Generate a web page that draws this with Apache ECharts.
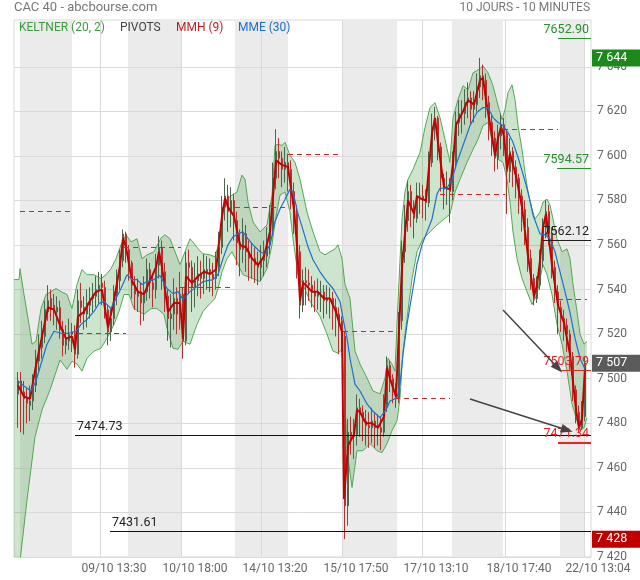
<!DOCTYPE html>
<html><head><meta charset="utf-8">
<script src="https://cdn.jsdelivr.net/npm/echarts@6/dist/echarts.min.js"></script>
<style>html,body{margin:0;padding:0;background:#fff}#c{width:640px;height:580px}</style>
</head><body><div id="c"></div>
<script>
// ---- axes ----
const tickIdx = [86,167,247,328,408,491,570];
const tickLabels = ['09/10 13:30','10/10 18:00','14/10 13:20','15/10 17:50','17/10 13:10','18/10 17:40','22/10 13:04'];
const yTicks = [7420,7440,7460,7480,7500,7520,7540,7560,7580,7600,7620,7640];
const yMin = 7420, yMax = 7661, xMax = 577;
const dayBands = [[6,58],[114,167],[221,274],[328,383],[438,489],[546,571]];
// ---- candles (one every 3 bars of 10 min, first at bar 4) ----
const firstBar = 4, barStep = 3;
const opens = [7493,7499,7494,7491,7488,7490,7497,7508,7514,7519,7530,7536,7533,7530,7532,7522,7515,7517,7521,7520,7511,7535,7532,7529,7533,7536,7537,7540,7543,7541,7531,7521,7527,7538,7544,7553,7565,7558,7552,7542,7537,7539,7534,7539,7549,7543,7540,7551,7559,7548,7537,7527,7529,7536,7529,7538,7517,7552,7550,7541,7544,7547,7545,7548,7549,7547,7545,7550,7559,7577,7582,7575,7580,7571,7561,7558,7565,7557,7554,7554,7551,7550,7553,7555,7560,7567,7590,7602,7599,7594,7597,7594,7584,7574,7557,7533,7544,7543,7542,7539,7537,7539,7539,7535,7536,7536,7532,7529,7526,7519,7443,7476,7474,7475,7487,7485,7481,7479,7478,7481,7478,7478,7476,7488,7506,7500,7495,7491,7526,7557,7571,7584,7577,7572,7582,7582,7581,7579,7597,7613,7617,7604,7590,7585,7586,7584,7597,7615,7619,7619,7624,7626,7621,7623,7631,7636,7634,7624,7615,7608,7599,7609,7614,7610,7593,7602,7595,7590,7582,7576,7568,7554,7545,7536,7542,7553,7568,7575,7565,7550,7539,7532,7527,7524,7520,7510,7495,7485,7478,7483];
const closes = [7499,7494,7491,7489,7490,7497,7509,7515,7520,7531,7535,7532,7531,7532,7522,7515,7518,7520,7520,7511,7535,7532,7529,7534,7536,7538,7540,7542,7541,7531,7521,7527,7539,7544,7553,7565,7558,7552,7542,7538,7539,7534,7539,7549,7543,7540,7552,7559,7548,7537,7527,7529,7536,7529,7538,7517,7552,7550,7541,7544,7547,7545,7549,7549,7547,7545,7550,7559,7577,7582,7575,7580,7571,7561,7558,7565,7557,7554,7554,7551,7550,7553,7555,7560,7567,7590,7602,7599,7594,7597,7594,7584,7574,7557,7533,7544,7543,7542,7539,7537,7539,7539,7535,7536,7536,7532,7529,7526,7519,7443,7476,7474,7475,7487,7485,7481,7479,7478,7481,7478,7478,7476,7488,7506,7500,7495,7491,7526,7557,7571,7584,7577,7572,7582,7582,7581,7579,7597,7613,7617,7604,7590,7585,7586,7584,7597,7615,7619,7619,7624,7626,7621,7623,7631,7636,7634,7624,7615,7608,7599,7609,7614,7610,7593,7602,7595,7590,7582,7576,7568,7554,7545,7536,7542,7553,7568,7575,7565,7550,7539,7532,7527,7524,7520,7510,7495,7485,7478,7483,7507];
const lows = [7478,7476,7475,7480,7481,7486,7494,7503,7509,7516,7526,7526,7524,7522,7518,7510,7511,7513,7512,7505,7509,7525,7522,7523,7527,7530,7532,7534,7533,7527,7515,7517,7524,7533,7540,7550,7552,7544,7536,7531,7530,7524,7526,7535,7536,7532,7536,7545,7540,7530,7517,7514,7522,7520,7522,7509,7515,7538,7530,7532,7537,7536,7538,7540,7539,7537,7540,7546,7556,7571,7566,7568,7562,7551,7546,7552,7548,7544,7545,7543,7542,7544,7546,7550,7556,7564,7585,7590,7586,7588,7584,7576,7565,7545,7527,7530,7533,7535,7532,7530,7531,7530,7527,7529,7527,7522,7519,7511,7512,7428,7434,7466,7464,7470,7474,7472,7470,7469,7471,7469,7470,7468,7474,7485,7494,7489,7487,7489,7522,7552,7566,7568,7563,7570,7574,7572,7571,7577,7595,7607,7598,7584,7576,7578,7570,7580,7595,7609,7610,7614,7617,7614,7615,7620,7626,7625,7617,7607,7600,7593,7594,7603,7600,7574,7588,7586,7581,7574,7566,7560,7548,7540,7533,7534,7540,7550,7563,7560,7545,7534,7520,7521,7517,7512,7504,7490,7480,7476,7477,7481];
const highs = [7503,7503,7499,7496,7497,7502,7513,7520,7526,7535,7542,7540,7538,7537,7535,7526,7524,7527,7525,7524,7540,7543,7537,7540,7541,7543,7546,7548,7547,7544,7533,7532,7542,7549,7558,7567,7566,7560,7553,7546,7545,7543,7546,7554,7552,7547,7556,7564,7562,7552,7540,7538,7545,7541,7548,7541,7557,7558,7553,7552,7555,7553,7556,7555,7554,7552,7557,7566,7582,7590,7587,7586,7583,7575,7567,7572,7569,7562,7561,7559,7557,7560,7562,7568,7578,7597,7612,7608,7602,7604,7601,7598,7588,7578,7560,7549,7550,7549,7546,7544,7545,7544,7542,7542,7541,7539,7536,7532,7528,7521,7482,7483,7482,7493,7491,7488,7486,7485,7487,7485,7484,7483,7493,7510,7508,7502,7498,7530,7562,7578,7589,7587,7580,7588,7588,7587,7585,7602,7619,7622,7618,7606,7592,7593,7590,7602,7620,7625,7625,7630,7633,7629,7629,7637,7644,7641,7637,7627,7618,7611,7614,7619,7617,7612,7608,7604,7598,7592,7585,7580,7572,7558,7547,7546,7558,7572,7580,7578,7568,7553,7542,7535,7531,7527,7522,7512,7497,7488,7490,7510];
// ---- indicators, read as [bar, value] ----
const mmh = [[4,7497],[10,7492],[16,7491],[22,7506],[28,7519],[34,7532],[40,7531],[46,7524],[52,7518],[58,7519],[61,7513],[64,7528],[70,7530],[76,7535],[82,7539],[88,7540],[94,7523],[100,7535],[106,7551],[109,7563],[112,7559],[118,7544],[124,7539],[130,7538],[136,7544],[142,7550],[145,7557],[148,7550],[154,7530],[160,7534],[166,7534],[169,7518],[172,7546],[178,7543],[184,7546],[190,7548],[196,7547],[202,7549],[208,7573],[211,7581],[214,7577],[220,7573],[226,7560],[232,7559],[238,7554],[244,7551],[250,7555],[256,7566],[262,7598],[268,7596],[274,7595],[280,7576],[283,7560],[286,7535],[289,7543],[292,7542],[298,7539],[304,7539],[310,7536],[316,7536],[322,7530],[328,7521],[330,7446],[334,7470],[340,7475],[343,7486],[346,7485],[352,7480],[358,7480],[364,7478],[370,7483],[373,7505],[376,7500],[382,7492],[385,7522],[388,7550],[394,7580],[397,7577],[400,7574],[403,7582],[406,7581],[412,7580],[418,7610],[421,7617],[424,7606],[430,7586],[436,7585],[439,7597],[442,7614],[448,7619],[454,7625],[460,7623],[466,7634],[469,7635],[472,7625],[478,7609],[481,7600],[484,7608],[487,7613],[490,7609],[493,7594],[496,7601],[502,7591],[508,7577],[514,7555],[520,7537],[523,7542],[526,7553],[529,7568],[532,7574],[538,7551],[544,7533],[550,7525],[556,7511],[562,7486],[565,7478],[568,7482],[571,7505]];
const mme = [[4,7499],[10,7496.7],[17,7494.5],[22,7499],[27,7506.6],[33,7515.5],[40,7521.3],[47,7520.4],[55,7520.4],[62,7521.3],[67,7524.4],[73,7526.6],[80,7530.2],[85,7533.8],[90,7534.7],[97,7531.5],[102,7536],[107,7540.5],[113,7546.7],[118,7544.5],[123,7544.5],[128,7542.3],[133,7543.6],[140,7544.5],[146,7546.3],[153,7540.5],[159,7538.2],[164,7539.1],[169,7535.6],[176,7539.1],[183,7541.4],[189,7543.6],[199,7544.5],[204,7546.7],[209,7553.9],[214,7560.1],[219,7563.7],[224,7565],[229,7565.9],[234,7562.8],[239,7560.1],[246,7557],[251,7556.1],[256,7560.1],[261,7570.4],[266,7576.2],[271,7580.6],[276,7585.1],[279,7583.8],[284,7574],[289,7566.8],[294,7559.2],[299,7553.4],[306,7548],[313,7543.6],[319,7540.5],[326,7534.7],[329,7527.1],[333,7518.2],[336,7509.2],[341,7497.6],[346,7494.5],[353,7488.7],[359,7485.4],[366,7482.5],[369,7484.3],[373,7486.9],[376,7490],[383,7491.4],[386,7497.6],[389,7511.1],[393,7524.4],[398,7537.8],[403,7551.6],[408,7560.1],[413,7565.9],[418,7571.7],[423,7582.9],[426,7585.5],[433,7585.5],[438,7589.5],[443,7597.1],[449,7604.7],[456,7613.6],[463,7619.6],[469,7621.7],[474,7621.7],[479,7617.2],[484,7615],[489,7613.6],[494,7610.5],[499,7606.1],[504,7599.4],[509,7591.8],[514,7583.8],[519,7573.5],[526,7565],[531,7564.6],[536,7562.8],[541,7557],[546,7548],[551,7539.1],[556,7529.7],[561,7518.2],[566,7509.2],[571,7504.3]];
const kUpper = [[0,7544.5],[5,7544.5],[6,7549.4],[10,7537.8],[15,7524.4],[18,7515.5],[22,7516.8],[27,7531.5],[32,7537.8],[37,7539.1],[42,7540.5],[47,7539.1],[53,7537.8],[58,7531.5],[63,7542.3],[68,7549],[73,7546.7],[80,7546.7],[87,7544.9],[92,7546.7],[97,7549.4],[102,7553.9],[107,7560.1],[112,7564.6],[117,7561.4],[123,7562.8],[128,7553.9],[133,7555.6],[140,7557],[147,7563.2],[151,7564.6],[156,7562.8],[161,7557],[166,7551.2],[171,7557],[176,7562.8],[179,7561.4],[184,7558.3],[189,7556.1],[196,7555.6],[201,7554.7],[206,7562.8],[209,7574.8],[213,7580.6],[218,7582.4],[223,7583.8],[228,7591.4],[231,7589.5],[234,7579.3],[239,7570.4],[246,7565.9],[253,7569],[258,7582.4],[261,7604.7],[264,7605.2],[268,7604.7],[271,7606.1],[276,7600.3],[281,7597.1],[286,7589.5],[293,7574.8],[299,7565.9],[306,7557],[311,7555.6],[316,7557],[321,7558.3],[324,7560.1],[328,7553.9],[331,7542.3],[336,7536],[341,7512.4],[346,7506.6],[353,7500.3],[359,7494.5],[366,7493.2],[371,7500.3],[374,7509.2],[378,7506.6],[381,7503.4],[384,7534.7],[388,7571.7],[391,7583.8],[394,7589.5],[399,7594],[406,7601.6],[411,7612.8],[416,7621.7],[421,7623.9],[426,7617.2],[431,7607.4],[436,7597.1],[439,7617.2],[444,7625.3],[449,7631.5],[454,7629.7],[459,7637.3],[464,7638.6],[469,7640.4],[474,7637.3],[479,7631.5],[484,7622.6],[488,7616.3],[491,7620.8],[494,7628.4],[498,7631.9],[501,7625.3],[504,7613.6],[508,7602.9],[511,7592.7],[514,7583.8],[518,7576.2],[521,7571.7],[526,7574.8],[529,7579.3],[533,7580.6],[536,7577.9],[539,7571.7],[543,7562.8],[548,7557],[553,7558.3],[556,7553.9],[559,7542.3],[563,7530.2],[566,7520],[570,7515.5],[573,7516.8]];
const kLower = [[0,7405],[5,7405],[6,7418],[13,7445.6],[21,7473.9],[28,7486],[36,7495],[46,7508.4],[53,7504.3],[58,7507.9],[63,7506.6],[68,7503.4],[73,7509.2],[80,7512.4],[87,7513.7],[93,7518.2],[100,7524.4],[105,7530.2],[110,7537.8],[115,7537.8],[120,7531.5],[125,7530.2],[130,7528.9],[137,7531.5],[143,7531.5],[150,7528.9],[153,7522.6],[159,7513.7],[164,7513.2],[169,7516.8],[176,7515.5],[183,7524.4],[189,7530.2],[196,7533.8],[201,7536],[204,7540.5],[208,7548],[213,7553.9],[218,7557],[223,7552.5],[226,7549.4],[229,7546.7],[234,7545.8],[239,7544.9],[246,7543.6],[253,7549.4],[258,7560.1],[261,7570.4],[266,7582.4],[271,7583.8],[276,7574.8],[279,7562.8],[284,7546.7],[289,7542.3],[296,7534.7],[306,7528],[313,7520],[319,7512.4],[324,7511.5],[328,7513.2],[331,7490],[333,7467.7],[338,7451.2],[343,7467.7],[349,7467.7],[356,7470.9],[363,7467.7],[368,7466.8],[373,7470.9],[378,7476.7],[383,7481.1],[386,7491.4],[389,7512.4],[393,7527.1],[398,7544.9],[403,7557],[409,7562.8],[416,7565.9],[423,7569],[429,7571.3],[436,7573.9],[441,7583.8],[446,7589.5],[453,7597.1],[459,7602.9],[464,7607.4],[469,7613.6],[474,7615],[479,7604.7],[484,7598.5],[489,7597.1],[493,7589.5],[496,7579.3],[499,7565.9],[503,7553.9],[508,7545],[513,7539.1],[518,7533.3],[523,7537.8],[526,7545],[529,7551.2],[533,7546.7],[538,7537.8],[543,7524.4],[548,7515.5],[553,7503.4],[558,7488.7],[563,7481.1],[566,7476.7],[570,7478],[573,7482.5]];
// ---- pivots: [fromBar, toBar, value] ----
const pivots = [[6,58,7575.3],[64,112,7520.4],[110,167,7559.2],[166,219,7540.9],[221,274,7577.1],[274,328,7600.7],[329,383,7521.3],[381,436,7491.4],[426,491,7582.9],[489,544,7611.9],[544,573,7535.6]];
const levelVals = [7652.90, 7594.57, 7562.12, 7503.79, 7471.34];
const levelStart = [544, 543, 529, 545, 544];
const levelColors = ['#22922a', '#22922a', '#222222', '#ee2222', '#ee2222'];
const supportVals = [7474.73, 7431.61];
const supportStart = [61, 96];
const arrowFrom = [[489, 7530.9], [456, 7490.9]];
const arrowTo = [[544, 7504.8], [553, 7477.0]];
const boxVals = [7644, 7507, 7428];
const boxColors = ['#1b8a1b', '#5b5b5b', '#c00000'];

const fmtPrice = v => { const s = String(Math.round(v)); return s.slice(0, s.length - 3) + ' ' + s.slice(-3); };
const candleData = closes.map((c, i) => [firstBar + barStep * i, opens[i], c, lows[i], highs[i]]);

const markData = [];
pivots.forEach(p => markData.push([{coord:[p[0], p[2]], lineStyle:{color:'#e02020', type:[5,4], width:1}, label:{show:false}}, {coord:[p[1], p[2]]}]));
levelVals.forEach((v, i) => markData.push([{coord:[levelStart[i], v], lineStyle:{color:levelColors[i], type:'solid', width: i === 4 ? 2 : 1},
  label:{show:true, position:'insideEndTop', distance:2, formatter: v.toFixed(2), color: levelColors[i], fontSize:12.5, fontFamily:'Roboto'}}, {coord:[xMax, v]}]));
supportVals.forEach((v, i) => markData.push([{coord:[supportStart[i], v], lineStyle:{color:'#111', type:'solid', width:1},
  label:{show:true, position:'insideStartTop', distance:2, formatter: v.toFixed(2), color:'#222', fontSize:12.5, fontFamily:'Roboto'}}, {coord:[xMax, v]}]));

const arrowData = arrowFrom.map((a, i) => [{coord:a}, {coord:arrowTo[i]}]);
const boxData = boxVals.map((v, i) => [{coord:[xMax - 1, v], lineStyle:{color:'rgba(0,0,0,0)', width:0},
  label:{show:true, position:'end', distance:1, formatter: fmtPrice(v), color:'#fff', backgroundColor: boxColors[i], padding:[2,14,2,4], fontSize:12.5, fontFamily:'Roboto'}}, {coord:[xMax, v]}]);

const chart = echarts.init(document.getElementById('c'));
chart.setOption({
  animation: false,
  textStyle: {fontFamily: 'Roboto'},
  grid: {left: 14, right: 49, top: 20, bottom: 23, show: true, borderColor: '#d8d8d8', borderWidth: 1},
  xAxis: {type: 'value', min: 0, max: xMax, z: 1,
    axisLine: {show: false}, axisTick: {show: false, customValues: tickIdx},
    axisLabel: {customValues: tickIdx, formatter: v => tickLabels[tickIdx.indexOf(v)] || '', color: '#666', fontSize: 12, margin: 6, padding: [0,0,0,28]},
    splitLine: {show: true, lineStyle: {color: '#dadada'}}},
  yAxis: {type: 'value', position: 'right', min: yMin, max: yMax, z: 1,
    axisLine: {show: false}, axisTick: {show: false, customValues: yTicks},
    axisLabel: {customValues: yTicks, formatter: fmtPrice, color: '#666', fontSize: 12, margin: 6},
    splitLine: {show: true, lineStyle: {color: '#dadada'}}},
  graphic: [
    {type: 'text', left: 14, top: 1, z: 100, style: {text: 'CAC 40 - abcbourse.com', fill: '#777', font: '13px Roboto'}},
    {type: 'text', right: 50, top: 2, z: 100, style: {text: '10 JOURS - 10 MINUTES', fill: '#777', font: '12px Roboto'}},
    {type: 'text', left: 19, top: 22, z: 100, style: {text: 'KELTNER (20, 2)', fill: '#3c9c3c', font: '12px Roboto'}},
    {type: 'text', left: 120, top: 22, z: 100, style: {text: 'PIVOTS', fill: '#444', font: '12px Roboto'}},
    {type: 'text', left: 176, top: 22, z: 100, style: {text: 'MMH (9)', fill: '#c41a1a', font: '12px Roboto'}},
    {type: 'text', left: 238, top: 22, z: 100, style: {text: 'MME (30)', fill: '#1a6fd0', font: '12px Roboto'}}
  ],
  series: [
    {type: 'custom', name: 'days', z: 0.5, silent: true, clip: true, data: dayBands, encode: {x: [0, 1]},
      renderItem: (p, api) => {
        const a = api.coord([api.value(0), yMax]), b = api.coord([api.value(1), yMin]);
        return {type: 'rect', shape: {x: a[0], y: a[1], width: b[0] - a[0], height: b[1] - a[1]}, style: {fill: '#ebebeb'}};
      }},
    {type: 'custom', name: 'keltnerFill', z: 2, silent: true, clip: true, data: [[0, 7500]], encode: {x: 0, y: 1},
      renderItem: (p, api) => ({type: 'polygon',
        shape: {points: kUpper.map(d => api.coord(d)).concat(kLower.slice().reverse().map(d => api.coord(d)))},
        style: {fill: 'rgba(70,160,70,0.27)'}})},
    {type: 'line', name: 'kUpper', data: kUpper, z: 3, silent: true, showSymbol: false, lineStyle: {color: '#52a852', width: 1}},
    {type: 'line', name: 'kLower', data: kLower, z: 3, silent: true, showSymbol: false, lineStyle: {color: '#52a852', width: 1}},
    {type: 'candlestick', name: 'CAC 40', data: candleData, z: 4, barWidth: 2, silent: true,
      itemStyle: {color: '#2f7a3b', color0: '#e0443c', borderColor: '#4a664c', borderColor0: '#b83030', borderWidth: 1}},
    {type: 'line', name: 'MMH (9)', data: mmh, z: 5, silent: true, showSymbol: false, lineStyle: {color: '#c40000', width: 2}},
    {type: 'line', name: 'MME (30)', data: mme, z: 6, silent: true, showSymbol: false, lineStyle: {color: '#1f6fd0', width: 1.2},
      markLine: {z: 8, silent: true, symbol: ['none', 'none'], animation: false, data: markData}},
    {type: 'line', name: 'arrows', data: [[0, 7500]], z: 7, silent: true, showSymbol: false, lineStyle: {opacity: 0},
      markLine: {z: 9, silent: true, symbol: ['none', 'triangle'], symbolSize: [9, 12], label: {show: false},
        lineStyle: {color: '#444', width: 1.5, type: 'solid'}, data: arrowData}},
    {type: 'line', name: 'boxes', data: [[0, 7500]], z: 7, silent: true, showSymbol: false, lineStyle: {opacity: 0},
      markLine: {z: 10, silent: true, symbol: ['none', 'none'], data: boxData}}
  ]
});
</script></body></html>
